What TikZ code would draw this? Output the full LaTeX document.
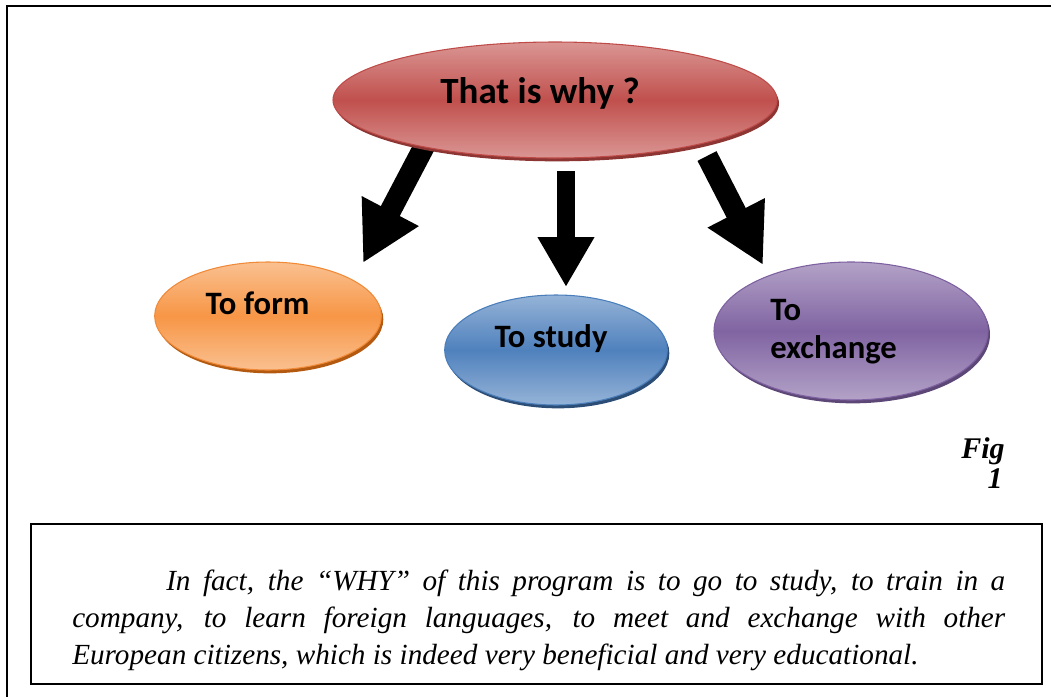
\documentclass[tikz,border=0pt]{standalone}
\usepackage{fontspec}
\setmainfont{Liberation Serif}
\newfontfamily\calib{Carlito}
\usetikzlibrary{shapes.geometric,arrows.meta,shadows}
\definecolor{redmid}{HTML}{C0504D}\definecolor{redlight}{HTML}{DA9694}\definecolor{reddark}{HTML}{8C3533}\definecolor{rededge}{HTML}{BE4B48}
\definecolor{ormid}{HTML}{F79646}\definecolor{orlight}{HTML}{FAC090}\definecolor{ordark}{HTML}{B35A10}\definecolor{oredge}{HTML}{F08A38}
\definecolor{bluemid}{HTML}{4F81BD}\definecolor{bluelight}{HTML}{95B3D7}\definecolor{bluedark}{HTML}{2C4D75}\definecolor{blueedge}{HTML}{4A7EBB}
\definecolor{purmid}{HTML}{8064A2}\definecolor{purlight}{HTML}{B3A2C7}\definecolor{purdark}{HTML}{5C4776}\definecolor{puredge}{HTML}{7D60A0}
\tikzset{
  blob/.style={ellipse, draw=#1edge, line width=0.8pt, inner sep=0pt,
    top color=#1light, bottom color=#1light, middle color=#1mid,
    drop shadow={shadow xshift=1.5pt, shadow yshift=-2.5pt, fill=#1dark, opacity=1}},
  lbl/.style={font=\calib\bfseries\fontsize{24.5}{29}\selectfont, inner sep=0pt},
  bigarrow/.style={line width=16pt, -{Triangle[width=45pt,length=44pt]}},
  midarrow/.style={line width=13.5pt, -{Triangle[width=40pt,length=37.5pt]}},
  figtxt/.style={font=\bfseries\itshape\fontsize{22.5}{26}\selectfont, inner sep=0pt, anchor=base east},
}
\begin{document}
\begin{tikzpicture}[x=0.75pt,y=-0.75pt]
\useasboundingbox (0,0) rectangle (1051,697);
% outer frame
\draw[line width=1.6pt] (7,697) -- (7,6) -- (1051,6);
% arrow end points
\coordinate (a1s) at (425,145);
\coordinate (a1e) at (363,263);
\coordinate (a2s) at (566,171);
\coordinate (a2e) at (566,287);
\coordinate (a3s) at (707,156);
\coordinate (a3e) at (763,265);
\draw[bigarrow] (a1s) -- (a1e);
\draw[midarrow] (a2s) -- (a2e);
\draw[bigarrow] (a3s) -- (a3e);
% ellipses
\node[blob=red, minimum width=333pt, minimum height=87pt] (top) at (555,100) {};
\node[blob=or, minimum width=170pt, minimum height=81pt] (form) at (268,316) {};
\node[blob=blue, minimum width=167pt, minimum height=82.5pt] (study) at (556,350) {};
\node[blob=pur, minimum width=205.5pt, minimum height=103.5pt] (exch) at (851,331) {};
% labels
\node[lbl, anchor=base, font=\calib\bfseries\fontsize{27.75}{32}\selectfont] (toptxt) at (540,103) {That is why ?};
\node[lbl, anchor=base] (formtxt) at (257.5,314) {To form};
\node[lbl, anchor=base] (studytxt) at (551,347) {To study};
\node[lbl, anchor=base west] (extxt1) at (770,320) {To};
\node[lbl, anchor=base west] (extxt2) at (770,358) {exchange};
% figure label
\node[figtxt] (fig) at (1005,458) {Fig};
\node[figtxt] (fignum) at (1003,488) {1};
% text box
\draw[line width=1.1pt] (31,524) rectangle (1042,684);
\node[anchor=north west, inner sep=0pt, text width=699.75pt, align=justify,
      font=\itshape\fontsize{21.9}{27.75}\selectfont] (body) at (72,570)
  {\hspace*{70.5pt}In fact, the ``WHY'' of this program is to go to study, to train in a\linebreak company, to learn foreign languages, to meet and exchange with other\linebreak European citizens, which is indeed very beneficial and very educational.};
\end{tikzpicture}
\end{document}
